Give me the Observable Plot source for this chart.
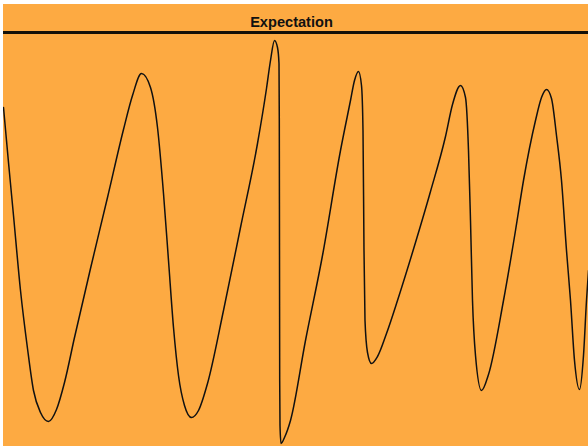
<!DOCTYPE html>
<html>
<head>
<meta charset="utf-8">
<script src="https://cdn.jsdelivr.net/npm/d3@7"></script>
<script src="https://cdn.jsdelivr.net/npm/@observablehq/plot@0.6"></script>
<style>
  html, body { margin: 0; padding: 0; background: #ffffff; }
  #wrap { position: absolute; left: 3px; top: 4px; width: 585px; height: 442px; background: #FDAA42; overflow: hidden; }
  #title { position: absolute; left: -4px; top: 11px; width: 100%; text-align: center; font: bold 14.6px "Liberation Sans", Arial, sans-serif; line-height: 15px; color: #111; }
  #rule { position: absolute; left: 0; top: 26.5px; width: 100%; height: 3px; background: #141008; }
  #chart { position: absolute; left: 0; top: 29px; }
</style>
</head>
<body>
<div id="wrap">
  <div id="title"></div>
  <div id="rule"></div>
  <div id="chart"></div>
</div>
<script>
const title = "Expectation";

// time (arbitrary units) and amplitude
const time = [0, 5, 10, 17, 24, 30, 37, 45,
  53, 61, 71, 87, 104, 120, 129, 138,
  147, 154, 160, 165, 170, 175, 181, 188,
  195, 204, 220, 237, 254, 263, 267, 271,
  274, 275.5, 275.8, 276, 276.2, 276.5, 277.5,
  281, 287, 302, 319, 337, 347, 351, 355,
  358, 359.5, 360.5, 361.5, 364, 368,
  374, 383, 394, 412, 427, 442, 449, 457,
  462, 465, 467, 469, 472, 478,
  485, 500, 512, 520, 532, 538, 543,
  548, 553, 558, 563, 567, 571, 576,
  580, 583, 585];
const amplitude = [133, 78, 25, -50, -108, -150, -172, -181,
  -169, -142, -97, -28, 43, 111, 145, 167,
  153, 113, 47, -20, -87, -135, -165, -177,
  -170, -143, -70, 13, 97, 152, 180, 200,
  193, 177, 120, -10, -140, -185, -203,
  -197, -180, -100, -15, 90, 140, 160, 169,
  155, 110, -10, -80, -112, -123,
  -116, -93, -60, -2, 49, 104, 136, 155,
  143, 90, 20, -60, -115, -150,
  -134, -60, 10, 60, 120, 143, 151,
  142, 105, 60, -10, -60, -120, -149,
  -115, -60, -30];

const data = time.map((t, i) => ({t, a: amplitude[i]}));

document.getElementById("title").textContent = title;

const chart = Plot.plot({
  width: 585,
  height: 413,
  margin: 0,
  style: { background: "none", overflow: "visible" },
  x: { domain: [0, 585], axis: null },
  y: { domain: [-206, 207], axis: null },
  marks: [
    Plot.line(data, { x: "t", y: "a", curve: "monotone-x", stroke: "#111", strokeWidth: 1.5 })
  ]
});
document.getElementById("chart").appendChild(chart);
</script>
</body>
</html>
